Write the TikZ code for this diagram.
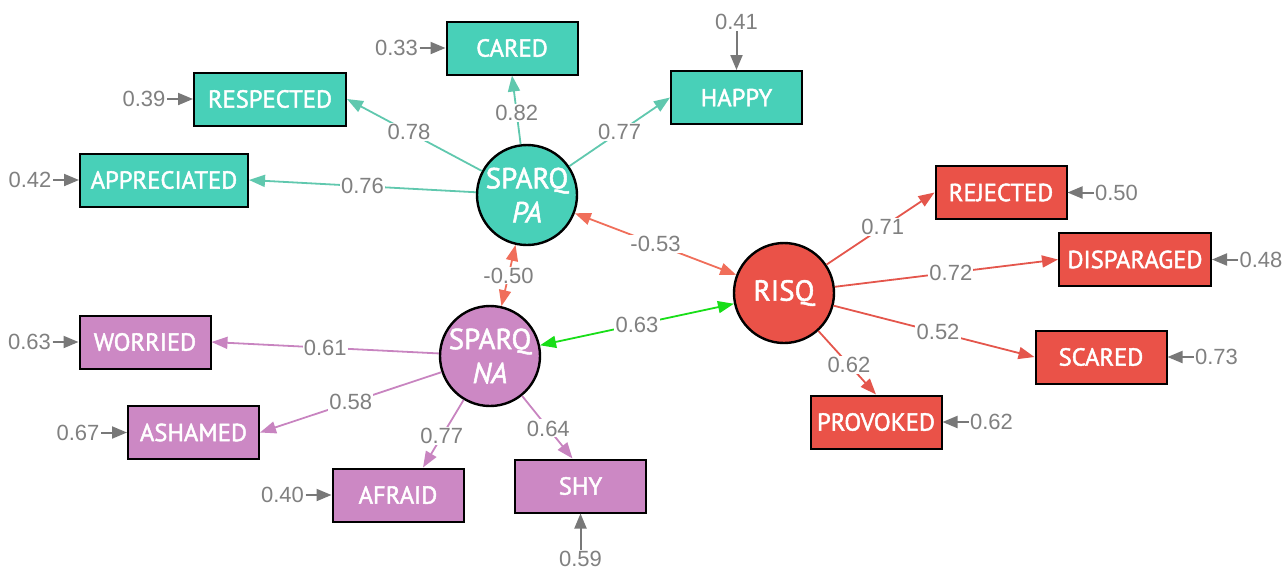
\documentclass[tikz,border=0pt]{standalone}
\usepackage{fontspec}
\setmainfont{Liberation Sans}
\newfontfamily\boxfont[FakeBold=1.8]{PT Sans}
\usetikzlibrary{arrows.meta,calc}
\definecolor{tealfill}{RGB}{72,208,184}
\definecolor{tealline}{RGB}{96,200,174}
\definecolor{pinkfill}{RGB}{204,136,196}
\definecolor{pinkline}{RGB}{200,132,192}
\definecolor{redfill}{RGB}{234,82,72}
\definecolor{redline}{RGB}{228,86,76}
\definecolor{corrline}{RGB}{240,110,90}
\definecolor{greenline}{RGB}{24,222,24}
\definecolor{labgray}{RGB}{128,128,128}
\definecolor{resgray}{RGB}{120,120,120}
\begin{document}
\begin{tikzpicture}[x=0.5pt,y=-0.5pt,
  obs/.style={draw=black, line width=1pt, minimum width=65.5pt, minimum height=26.5pt,
    inner sep=0pt, text=white, font=\boxfont\fontsize{12.3}{13}\selectfont},
  lat/.style={circle, draw=black, line width=1.2pt, minimum size=50pt, inner sep=0pt,
    align=center, text=white, font=\boxfont\fontsize{14.5}{17}\selectfont},
  lbl/.style={fill=white, inner sep=0.6pt, text=labgray, font=\fontsize{11}{11}\selectfont},
  rlbl/.style={inner sep=0.6pt, text=labgray, font=\fontsize{11}{11}\selectfont},
  tip/.style={-{Triangle[length=8pt,width=6pt]}, line width=0.9pt},
  dtip/.style={{Triangle[length=8pt,width=6pt]}-{Triangle[length=8pt,width=6pt]}, line width=0.9pt},
  res/.style={-{Triangle[length=7.5pt,width=6pt]}, line width=1pt, draw=resgray, fill=resgray},
  pabox/.style={obs, fill=tealfill},
  nabox/.style={obs, fill=pinkfill},
  rbox/.style={obs, fill=redfill}
]
\useasboundingbox (0,0) rectangle (1282,570);

% latent variables
\node[lat, fill=tealfill] (pa) at (527,195) {SPARQ\\\textit{PA}};
\node[lat, fill=pinkfill] (na) at (490,356) {SPARQ\\\textit{NA}};
\node[lat, fill=redfill] (risq) at (784,293) {RISQ};

% PA indicators
\node[pabox] (cared) at (512,48) {CARED};
\node[pabox, minimum width=76pt] (respected) at (270,99) {RESPECTED};
\node[pabox, minimum width=84pt] (appreciated) at (164,180) {APPRECIATED};
\node[pabox] (happy) at (736.5,97.5) {HAPPY};

% RISQ indicators
\node[rbox] (rejected) at (1001,192.5) {REJECTED};
\node[rbox, minimum width=76pt] (disparaged) at (1135,259.5) {DISPARAGED};
\node[rbox] (scared) at (1101,357) {SCARED};
\node[rbox] (provoked) at (876,422) {PROVOKED};

% NA indicators
\node[nabox] (worried) at (145,342) {WORRIED};
\node[nabox] (ashamed) at (193.5,432.5) {ASHAMED};
\node[nabox] (afraid) at (398,495) {AFRAID};
\node[nabox] (shy) at (580.5,486) {SHY};

% loadings PA
\draw[tip, draw=tealline, fill=tealline] (pa) -- node[lbl, pos=0.54] {0.78} (respected.east);
\draw[tip, draw=tealline, fill=tealline] (pa) -- node[lbl, pos=0.46] {0.82} (cared.south);
\draw[tip, draw=tealline, fill=tealline] (pa) -- node[lbl, pos=0.5] {0.77} (happy.west);
\draw[tip, draw=tealline, fill=tealline] (pa) -- node[lbl, pos=0.5] {0.76} (appreciated.east);

% loadings RISQ
\draw[tip, draw=redline, fill=redline] (risq) -- node[lbl, pos=0.52] {0.71} (rejected.west);
\draw[tip, draw=redline, fill=redline] (risq) -- node[lbl, pos=0.52] {0.72} (disparaged.west);
\draw[tip, draw=redline, fill=redline] (risq) -- node[lbl, pos=0.52] {0.52} (scared.west);
\draw[tip, draw=redline, fill=redline] (risq) -- node[lbl, pos=0.53] {0.62} (provoked.north);

% loadings NA
\draw[tip, draw=pinkline, fill=pinkline] (na) -- node[lbl, pos=0.5] {0.61} (worried.east);
\draw[tip, draw=pinkline, fill=pinkline] (na) -- node[lbl, pos=0.5] {0.58} (ashamed.east);
\draw[tip, draw=pinkline, fill=pinkline] (na) -- node[lbl, pos=0.54] {0.77} ([xshift=12.5pt]afraid.north);
\draw[tip, draw=pinkline, fill=pinkline] (na) -- node[lbl, pos=0.52] {0.64} ([xshift=-4pt]shy.north);

% correlations
\draw[dtip, draw=corrline, fill=corrline] (pa) -- node[lbl, pos=0.5] {-0.53} (risq);
\draw[dtip, draw=corrline, fill=corrline] (pa) -- node[lbl, pos=0.5] {-0.50} (na);
\draw[dtip, draw=greenline, fill=greenline] (na) -- node[lbl, pos=0.5] {0.63} (risq);

% residuals
\node[rlbl, anchor=east] (ecared) at ([xshift=-13pt]cared.west) {0.33};
\node[rlbl, anchor=east] (eresp) at ([xshift=-13pt]respected.west) {0.39};
\node[rlbl, anchor=east] (eappr) at ([xshift=-13pt]appreciated.west) {0.42};
\node[rlbl, anchor=south] (ehappy) at ([yshift=19.5pt]happy.north) {0.41};
\node[rlbl, anchor=west] (erej) at ([xshift=13pt]rejected.east) {0.50};
\node[rlbl, anchor=west] (edisp) at ([xshift=13pt]disparaged.east) {0.48};
\node[rlbl, anchor=west] (escar) at ([xshift=13pt]scared.east) {0.73};
\node[rlbl, anchor=west] (eprov) at ([xshift=13pt]provoked.east) {0.62};
\node[rlbl, anchor=east] (ewor) at ([xshift=-13pt]worried.west) {0.63};
\node[rlbl, anchor=east] (eash) at ([xshift=-13pt]ashamed.west) {0.67};
\node[rlbl, anchor=east] (eafr) at ([xshift=-13pt]afraid.west) {0.40};
\node[rlbl, anchor=north] (eshy) at ([yshift=-18pt]shy.south) {0.59};

\draw[res] (ecared) -- (cared);
\draw[res] (eresp) -- (respected);
\draw[res] (eappr) -- (appreciated);
\draw[res] (ehappy) -- (happy);
\draw[res] (erej) -- (rejected);
\draw[res] (edisp) -- (disparaged);
\draw[res] (escar) -- (scared);
\draw[res] (eprov) -- (provoked);
\draw[res] (ewor) -- (worried);
\draw[res] (eash) -- (ashamed);
\draw[res] (eafr) -- (afraid);
\draw[res] (eshy) -- (shy);
\end{tikzpicture}
\end{document}
